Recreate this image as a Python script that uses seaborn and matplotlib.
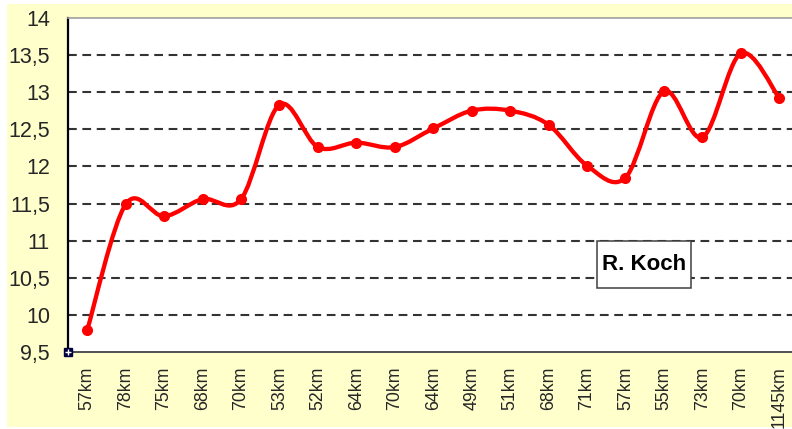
import matplotlib
matplotlib.use("Agg")
import matplotlib.pyplot as plt
import numpy as np
import pandas as pd
import seaborn as sns
from matplotlib.patches import PathPatch, Rectangle
from matplotlib.path import Path

# data
STAGES = ["57km", "78km", "75km", "68km", "70km", "53km", "52km", "64km", "70km", "64km",
          "49km", "51km", "68km", "71km", "57km", "55km", "73km", "70km", "1145km"]
SPEED = [9.80, 11.49, 11.33, 11.56, 11.56, 12.83, 12.26, 12.32, 12.26, 12.51,
         12.75, 12.75, 12.56, 12.01, 11.85, 13.01, 12.39, 13.52, 12.92]
Y_TICKS = [9.5, 10, 10.5, 11, 11.5, 12, 12.5, 13, 13.5, 14]
LABEL = "R. Koch"

RED = "#FF0000"
YELLOW = "#FFFFCC"


def smooth_path(xs, ys):
    # Excel-style smoothed line: cubic bezier segments through every point
    pts = np.column_stack([xs, ys]).astype(float)
    n = len(pts)
    verts = [pts[0]]
    codes = [Path.MOVETO]
    for i in range(n - 1):
        p_prev = pts[i - 1] if i > 0 else pts[i]
        p_next2 = pts[i + 2] if i + 2 < n else pts[i + 1]
        c1 = pts[i] + (pts[i + 1] - p_prev) / 6.0
        c2 = pts[i + 1] - (p_next2 - pts[i]) / 6.0
        verts += [c1, c2, pts[i + 1]]
        codes += [Path.CURVE4] * 3
    return Path(verts, codes)


def main() -> None:
    sns.set_theme(style="white")
    plt.rcParams["font.family"] = ["Liberation Sans", "DejaVu Sans"]

    df = pd.DataFrame({"pos": np.arange(len(STAGES)), "speed": SPEED})

    fig = plt.figure(figsize=(7.92, 4.29), dpi=100)
    fig.patch.set_facecolor("white")
    fig.patches.append(Rectangle((7 / 792, 2 / 429), 1.0, 423 / 429, transform=fig.transFigure,
                                 facecolor=YELLOW, edgecolor="none", zorder=-10))

    ax = fig.add_axes([68 / 792, 1 - 352.3 / 429, 730.5 / 792, 334.6 / 429])
    ax.set_facecolor("white")

    for v in Y_TICKS[1:-1]:
        ax.axhline(v, color="#333333", linewidth=1.5, linestyle=(0, (4.2, 2.7)), zorder=1)

    ax.add_patch(PathPatch(smooth_path(df["pos"], df["speed"]), facecolor="none",
                           edgecolor=RED, linewidth=3.1, zorder=3, capstyle="round",
                           joinstyle="round"))
    sns.scatterplot(data=df, x="pos", y="speed", color=RED, s=64, edgecolor=RED,
                    linewidth=0, zorder=4, ax=ax, legend=False)

    ax.set_xlim(-0.5, len(STAGES) - 0.5)
    ax.set_ylim(Y_TICKS[0], Y_TICKS[-1])

    ax.set_yticks(Y_TICKS)
    ax.set_yticklabels([f"{v:g}".replace(".", ",") for v in Y_TICKS], fontsize=15.5)
    ax.tick_params(axis="y", direction="out", length=6, width=1.5, color="black", pad=7)

    ax.set_xticks(df["pos"])
    ax.set_xticklabels(STAGES, rotation=90, fontsize=12.8, va="top")
    ax.set_xticks(np.arange(len(STAGES)) + 0.5, minor=True)
    ax.tick_params(axis="x", which="major", length=0, pad=10)
    ax.tick_params(axis="x", which="minor", direction="out", length=4, width=1.3,
                   color="#404040")
    ax.set_xlabel("")
    ax.set_ylabel("")

    ax.spines["left"].set_color("black")
    ax.spines["left"].set_linewidth(1.6)
    ax.spines["bottom"].set_color("#505050")
    ax.spines["bottom"].set_linewidth(1.4)
    ax.spines["top"].set_color("#A0A0A0")
    ax.spines["top"].set_linewidth(1.2)
    ax.spines["right"].set_visible(False)

    ax.add_patch(Rectangle((13.26, 10.36), 2.44, 0.635, facecolor="white",
                           edgecolor="#404040", linewidth=1.1, zorder=5))
    ax.text(14.48, 10.68, LABEL, ha="center", va="center", fontsize=16,
            fontweight="bold", color="black", zorder=6)

    # little selection handle at the axis corner
    ax.plot([-0.5], [9.5], marker="s", markersize=6, color="#000040", clip_on=False, zorder=7)
    ax.plot([-0.5], [9.5], marker="+", markersize=5, markeredgewidth=1, color="white",
            clip_on=False, zorder=8)

    fig.savefig("out.png", dpi=100, facecolor=fig.get_facecolor())
    plt.close(fig)


if __name__ == "__main__":
    main()
